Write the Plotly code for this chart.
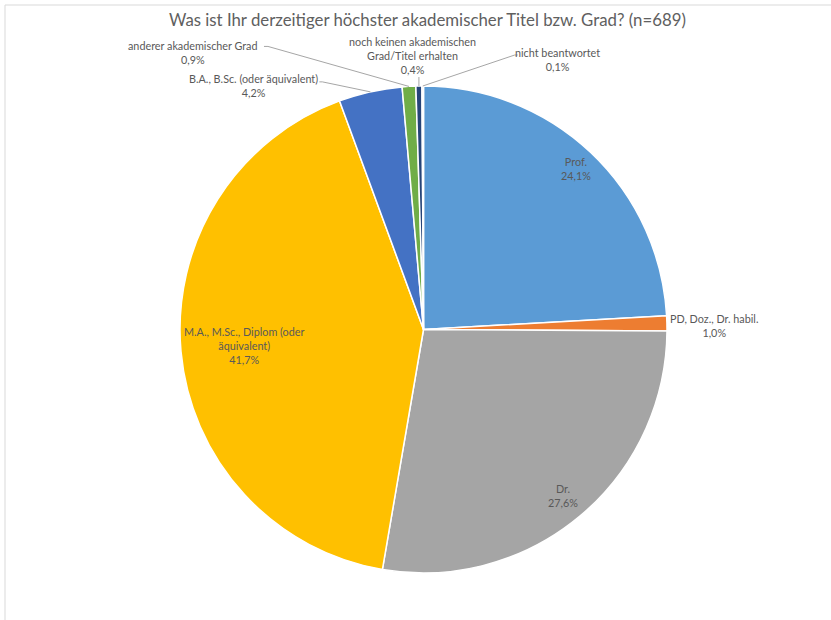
import math
import plotly.graph_objects as go

# Survey answers: highest academic title or degree (n=689)
categories = [
    "Prof.",
    "PD, Doz., Dr. habil.",
    "Dr.",
    "M.A., M.Sc., Diplom (oder äquivalent)",
    "B.A., B.Sc. (oder äquivalent)",
    "anderer akademischer Grad",
    "noch keinen akademischen Grad/Titel erhalten",
    "nicht beantwortet",
]
shares = [24.1, 1.0, 27.6, 41.7, 4.2, 0.9, 0.4, 0.1]
display_names = [
    "Prof.",
    "PD, Doz., Dr. habil.",
    "Dr.",
    "M.A., M.Sc., Diplom (oder<br>äquivalent)",
    "B.A., B.Sc. (oder äquivalent)",
    "anderer akademischer Grad",
    "noch keinen akademischen<br>Grad/Titel erhalten",
    "nicht beantwortet",
]
title_text = "Was ist Ihr derzeitiger höchster akademischer Titel bzw. Grad? (n=689)"

colors = ["#5B9BD5", "#ED7D31", "#A5A5A5", "#FFC000", "#4472C4",
          "#70AD47", "#264478", "#9E480E"]

# Canvas and pie geometry (pixels)
W, H = 831, 620
CX, CY, R = 423.5, 329.5, 243.5

# Label placement: inside labels sit at a fraction of the radius on the
# slice's mid angle; outside labels are offset from the slice's rim point
# and joined to it by a leader line through an elbow.
placement = [
    {"mode": "in", "f": 0.91},
    {"mode": "out", "dx": 47, "dy": 2, "leader": None},
    {"mode": "in", "f": 0.89},
    {"mode": "in", "f": 0.74},
    {"mode": "out", "dx": -117, "dy": -6, "leader": [(-48, -10), (-51, -10)]},
    {"mode": "out", "dx": -216, "dy": -34, "leader": [(-141, -40), (-145, -40)]},
    {"mode": "out", "dx": -6, "dy": -31, "leader": [(0, -9)]},
    {"mode": "out", "dx": 135, "dy": -27, "leader": [(92, -31), (95, -31)]},
]


def px(x, y):
    return x / W, 1 - y / H


def fmt_pct(v):
    return f"{v:.1f}%".replace(".", ",")


fig = go.Figure(
    go.Pie(
        labels=categories,
        values=shares,
        sort=False,
        direction="clockwise",
        rotation=0,
        marker=dict(colors=colors, line=dict(color="white", width=1.5)),
        textinfo="none",
        hoverinfo="label+percent",
        showlegend=False,
        domain=dict(x=[(CX - R) / W, (CX + R) / W],
                    y=[(H - CY - R) / H, (H - CY + R) / H]),
    )
)

annotations = []
shapes = []
total = sum(shares)
cum = 0.0
font = dict(family="Lato, 'Open Sans', sans-serif", size=10.8, color="#595959")
for name, v, pl in zip(display_names, shares, placement):
    mid = (cum + v / 2) / total * 2 * math.pi
    cum += v
    sx, sy = math.sin(mid), -math.cos(mid)
    text = f"{name}<br>{fmt_pct(v)}"
    if pl["mode"] == "in":
        lx, ly = CX + pl["f"] * R * sx, CY + pl["f"] * R * sy
    else:
        ex, ey = CX + R * sx, CY + R * sy
        lx, ly = ex + pl["dx"], ey + pl["dy"]
        if pl["leader"]:
            pts = [(ex, ey)] + [(ex + a, ey + b) for a, b in pl["leader"]]
            path = "M " + " L ".join(f"{px(x, y)[0]:.5f},{px(x, y)[1]:.5f}"
                                      for x, y in pts)
            shapes.append(dict(type="path", xref="paper", yref="paper",
                               path=path, line=dict(color="#A6A6A6", width=1)))
    ax, ay = px(lx, ly)
    annotations.append(dict(x=ax, y=ay, xref="paper", yref="paper",
                            text=text, showarrow=False, xanchor="center",
                            yanchor="middle", align="center", font=font))

# Title
tx, ty = px(427.5, 20)
annotations.append(dict(x=tx, y=ty, xref="paper", yref="paper", text=title_text,
                        showarrow=False, xanchor="center", yanchor="middle",
                        font=dict(family="Lato, 'Open Sans', sans-serif",
                                  size=16.8, color="#606060")))

# Chart area frame (top and left edges)
shapes.append(dict(type="line", xref="paper", yref="paper",
                   x0=5 / W, y0=1 - 5 / H, x1=1, y1=1 - 5 / H,
                   line=dict(color="#D9D9D9", width=1)))
shapes.append(dict(type="line", xref="paper", yref="paper",
                   x0=5 / W, y0=1 - 5 / H, x1=5 / W, y1=0,
                   line=dict(color="#D9D9D9", width=1)))

fig.update_layout(
    width=W, height=H,
    margin=dict(l=0, r=0, t=0, b=0),
    paper_bgcolor="white", plot_bgcolor="white",
    annotations=annotations, shapes=shapes,
)

fig.write_html("out.html")
